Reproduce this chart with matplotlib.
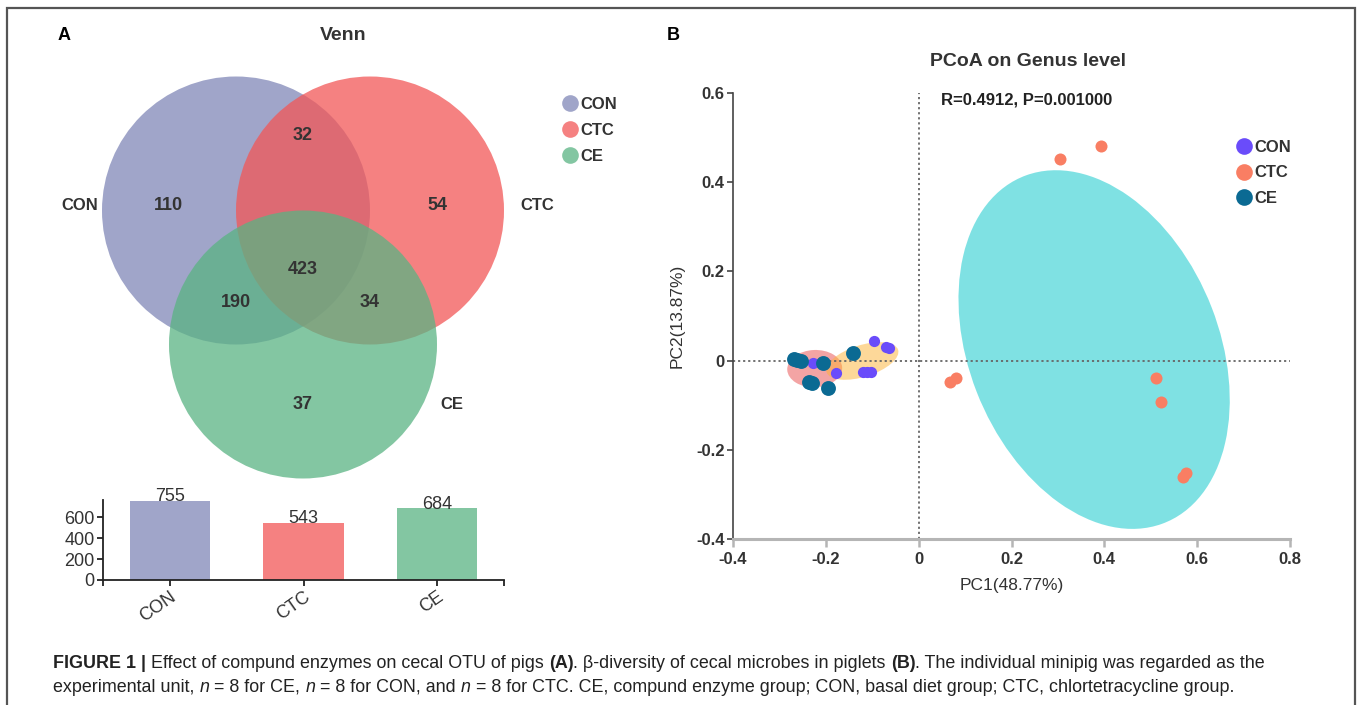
import numpy as np
import matplotlib
matplotlib.use('Agg')
import matplotlib.pyplot as plt
from matplotlib.patches import Circle, Ellipse, Rectangle
from matplotlib.lines import Line2D
from matplotlib.transforms import IdentityTransform

plt.rcParams['font.family'] = ['Liberation Sans', 'DejaVu Sans']

W, H = 1357, 705

''' Venn data '''
groups = ['CON', 'CTC', 'CE']
venn_colors = ['#A0A5C9', '#F58181', '#83C6A2']
only_counts = [110, 54, 37]
con_ctc = 32
con_ce = 190
ctc_ce = 34
all_three = 423
otu_totals = [755, 543, 684]

''' PCoA data '''
con_pc1 = [-0.096, -0.064, -0.228, -0.178, -0.120, -0.103, -0.112, -0.070]
con_pc2 = [0.044, 0.028, -0.005, -0.028, -0.026, -0.025, -0.025, 0.030]
ctc_pc1 = [0.304, 0.393, 0.068, 0.080, 0.511, 0.523, 0.570, 0.575]
ctc_pc2 = [0.452, 0.481, -0.048, -0.040, -0.039, -0.093, -0.262, -0.253]
ce_pc1 = [-0.268, -0.262, -0.254, -0.206, -0.141, -0.236, -0.230, -0.195]
ce_pc2 = [0.003, 0.001, -0.001, -0.005, 0.017, -0.048, -0.050, -0.061]
pt_colors = ['#6A4CFA', '#F97E63', '#0B6A93']
ell_colors = ['#FDB335', '#01C5C9', '#E94B4B']
pc1_label = 'PC1(48.77%)'
pc2_label = 'PC2(13.87%)'
stat_text = 'R=0.4912, P=0.001000'

TXT = '#333333'


def px_box(x0, y0, x1, y1):
    return [x0 / W, 1 - y1 / H, (x1 - x0) / W, (y1 - y0) / H]


def base_color(hexc, a):
    c = np.array(matplotlib.colors.to_rgb(hexc))
    return tuple(np.clip((c - (1 - a)) / a, 0, 1))


def conf_ellipse(ax, x, y, k, **kw):
    cov = np.cov(x, y)
    vals, vecs = np.linalg.eigh(cov)
    ang = np.degrees(np.arctan2(vecs[1, 1], vecs[0, 1]))
    e = Ellipse((np.mean(x), np.mean(y)), 2 * k * np.sqrt(vals[1]),
                2 * k * np.sqrt(vals[0]), angle=ang, **kw)
    ax.add_patch(e)
    return e


fig = plt.figure(figsize=(W / 100, H / 100), dpi=100)

''' outer frame '''
fig.add_artist(Rectangle((7 / W, -0.05), 1348 / W, 1.05 - 8 / H,
                         transform=fig.transFigure, fill=False,
                         ec='#555555', lw=1.6))

''' ---------- Panel A : Venn ---------- '''
R = 134.0
ax_v = fig.add_axes(px_box(35, 40, 571, 480))
ax_v.set_xlim(-2, 2)
ax_v.set_ylim(-(480 - 277.5) / R, (277.5 - 40) / R)
ax_v.axis('off')
centers = [(-0.5, 0.5), (0.5, 0.5), (0.0, -0.5)]
alpha_v = 0.75
for (cx, cy), col in zip(centers, venn_colors):
    ax_v.add_patch(Circle((cx, cy), 1.0, fc=base_color(col, alpha_v),
                          alpha=alpha_v, ec='none'))

num_kw = dict(ha='center', va='center', fontsize=13, fontweight='bold', color=TXT)
ax_v.text(-1.007, 0.541, str(only_counts[0]), **num_kw)
ax_v.text(1.0, 0.541, str(only_counts[1]), **num_kw)
ax_v.text(0.0, -0.95, str(only_counts[2]), **num_kw)
ax_v.text(0.0, 1.056, str(con_ctc), **num_kw)
ax_v.text(-0.5, -0.19, str(con_ce), **num_kw)
ax_v.text(0.5, -0.19, str(ctc_ce), **num_kw)
ax_v.text(0.0, 0.056, str(all_three), **num_kw)
lab_kw = dict(ha='center', va='center', fontsize=12, fontweight='bold', color=TXT)
ax_v.text(-1.664, 0.541, groups[0], **lab_kw)
ax_v.text(1.746, 0.541, groups[1], **lab_kw)
ax_v.text(1.112, -0.95, groups[2], **lab_kw)

fig.text(343 / W, 1 - 36 / H, 'Venn', ha='center', va='center',
         fontsize=14, fontweight='bold', color=TXT)
fig.text(64 / W, 1 - 36 / H, 'A', ha='center', va='center',
         fontsize=13, fontweight='bold', color='black')

hv = [Line2D([], [], ls='', marker='o', ms=12, mec='none', mfc=c)
      for c in venn_colors]
fig.legend(hv, groups, loc='upper left', bbox_to_anchor=(562 / W, 1 - 97 / H),
           frameon=False, handlelength=0.9, handletextpad=0.2,
           labelspacing=0.66, borderpad=0, borderaxespad=0,
           prop=dict(size=12, weight='bold'), labelcolor=TXT)

''' bar chart of totals '''
ax_b = fig.add_axes(px_box(103, 500, 504, 580))
xb = np.arange(len(groups))
ax_b.bar(xb, otu_totals, width=0.6, color=venn_colors)
for xi, v in zip(xb, otu_totals):
    ax_b.annotate(str(v), (xi, v), xytext=(0, 3), textcoords='offset points',
                  ha='center', va='center', fontsize=13, color=TXT)
ax_b.set_xlim(-0.5, 2.5)
ax_b.set_ylim(0, 762)
ax_b.set_yticks([0, 200, 400, 600])
ax_b.set_xticks(xb)
ax_b.set_xticks([-0.5, 2.5], minor=True)
ax_b.set_xticklabels(groups, rotation=35, ha='right', va='top',
                     rotation_mode='anchor')
for s in ['top', 'right']:
    ax_b.spines[s].set_visible(False)
for s in ['left', 'bottom']:
    ax_b.spines[s].set_linewidth(1.3)
    ax_b.spines[s].set_color('#222222')
ax_b.tick_params(axis='both', which='both', length=4, width=1.3,
                 color='#222222', labelsize=13, labelcolor=TXT, pad=2)

''' ---------- Panel B : PCoA ---------- '''
fig.text(673 / W, 1 - 36 / H, 'B', ha='center', va='center',
         fontsize=13, fontweight='bold', color='black')
ax_p = fig.add_axes(px_box(733, 93, 1290, 539))
ax_p.set_xlim(-0.4, 0.8)
ax_p.set_ylim(-0.4, 0.6)

k = 1.4
conf_ellipse(ax_p, ctc_pc1, ctc_pc2, k, fc=ell_colors[1], alpha=0.5, ec='none', zorder=1)
conf_ellipse(ax_p, ce_pc1, ce_pc2, k, fc=ell_colors[2], alpha=0.5, ec='none', zorder=1)
conf_ellipse(ax_p, con_pc1, con_pc2, k, fc=ell_colors[0], alpha=0.5, ec='none', zorder=1)

ax_p.axvline(0, color='#666666', ls=(0, (1.2, 1.6)), lw=1.3, zorder=2)
ax_p.axhline(0, color='#666666', ls=(0, (1.2, 1.6)), lw=1.3, zorder=2)

ax_p.scatter(ctc_pc1, ctc_pc2, s=75, color=pt_colors[1], lw=0, zorder=3, label='CTC')
ax_p.scatter(con_pc1, con_pc2, s=65, color=pt_colors[0], lw=0, zorder=3, label='CON')
ax_p.scatter(ce_pc1, ce_pc2, s=115, color=pt_colors[2], lw=0, zorder=4, label='CE')

hp = [Line2D([], [], ls='', marker='o', ms=12, mec='none', mfc=c) for c in pt_colors]
ax_p.legend(hp, groups, loc='upper left', bbox_to_anchor=(1236 / W, 1 - 140 / H),
            bbox_transform=fig.transFigure, frameon=False, handlelength=0.9,
            handletextpad=0.2, labelspacing=0.62, borderpad=0, borderaxespad=0,
            prop=dict(size=12, weight='bold'), labelcolor=TXT)

ax_p.set_xticks([-0.4, -0.2, 0, 0.2, 0.4, 0.6, 0.8])
ax_p.set_xticklabels(['-0.4', '-0.2', '0', '0.2', '0.4', '0.6', '0.8'])
ax_p.set_yticks([-0.4, -0.2, 0, 0.2, 0.4, 0.6])
ax_p.set_yticklabels(['-0.4', '-0.2', '0', '0.2', '0.4', '0.6'])
for s in ['top', 'right']:
    ax_p.spines[s].set_visible(False)
ax_p.spines['left'].set_color('#444444')
ax_p.spines['left'].set_linewidth(1.2)
ax_p.spines['bottom'].set_color('#B5B5B5')
ax_p.spines['bottom'].set_linewidth(2.2)
ax_p.tick_params(axis='y', length=4, width=1.2, color='#444444', labelsize=12,
                 labelcolor=TXT, pad=2)
ax_p.tick_params(axis='x', length=6, width=1.8, color='#B5B5B5', labelsize=12,
                 labelcolor=TXT, pad=3)
for t in ax_p.get_xticklabels() + ax_p.get_yticklabels():
    t.set_fontweight('bold')
ax_p.set_xlabel(pc1_label, fontsize=12.5, color=TXT, labelpad=8)
ax_p.set_ylabel(pc2_label, fontsize=12.5, color=TXT, labelpad=8)
fig.text(1028 / W, 1 - 62 / H, 'PCoA on Genus level', ha='center', va='center',
         fontsize=14, fontweight='bold', color=TXT)
fig.text(941 / W, 1 - 100 / H, stat_text, ha='left', va='center',
         fontsize=12, fontweight='bold', color='#222222')

''' ---------- caption ---------- '''
cap1 = [('FIGURE 1 |', 'bold'), (' Effect of compund enzymes on cecal OTU of pigs ', 'normal'),
        ('(A)', 'bold'), ('. β-diversity of cecal microbes in piglets ', 'normal'),
        ('(B)', 'bold'), ('. The individual minipig was regarded as the', 'normal')]
cap2 = [('experimental unit, ', 'normal'), ('n', 'italic'), (' = 8 for CE, ', 'normal'),
        ('n', 'italic'), (' = 8 for CON, and ', 'normal'), ('n', 'italic'),
        (' = 8 for CTC. CE, compund enzyme group; CON, basal diet group; CTC, chlortetracycline group.', 'normal')]

rend = fig.canvas.get_renderer()
CAP_FS = 12.9


def text_w(s, **kw):
    t = fig.text(0, 0, s, fontsize=CAP_FS, transform=IdentityTransform(), **kw)
    w = t.get_window_extent(rend).width
    t.remove()
    return w


sp_w = text_w('x x') - text_w('xx')


def draw_runs(runs, x, y):
    for s, st in runs:
        kw = {}
        if st == 'bold':
            kw['fontweight'] = 'bold'
        elif st == 'italic':
            kw['fontstyle'] = 'italic'
        if s.startswith(' '):
            x += sp_w
        body = s.strip()
        t = fig.text(x, H - y, body, fontsize=CAP_FS, transform=IdentityTransform(),
                     va='center', ha='left', color='#222222', **kw)
        x = t.get_window_extent(rend).x1
        if s.endswith(' '):
            x += sp_w


draw_runs(cap1, 53, 663)
draw_runs(cap2, 53, 687)

fig.savefig('out.png', dpi=100)
